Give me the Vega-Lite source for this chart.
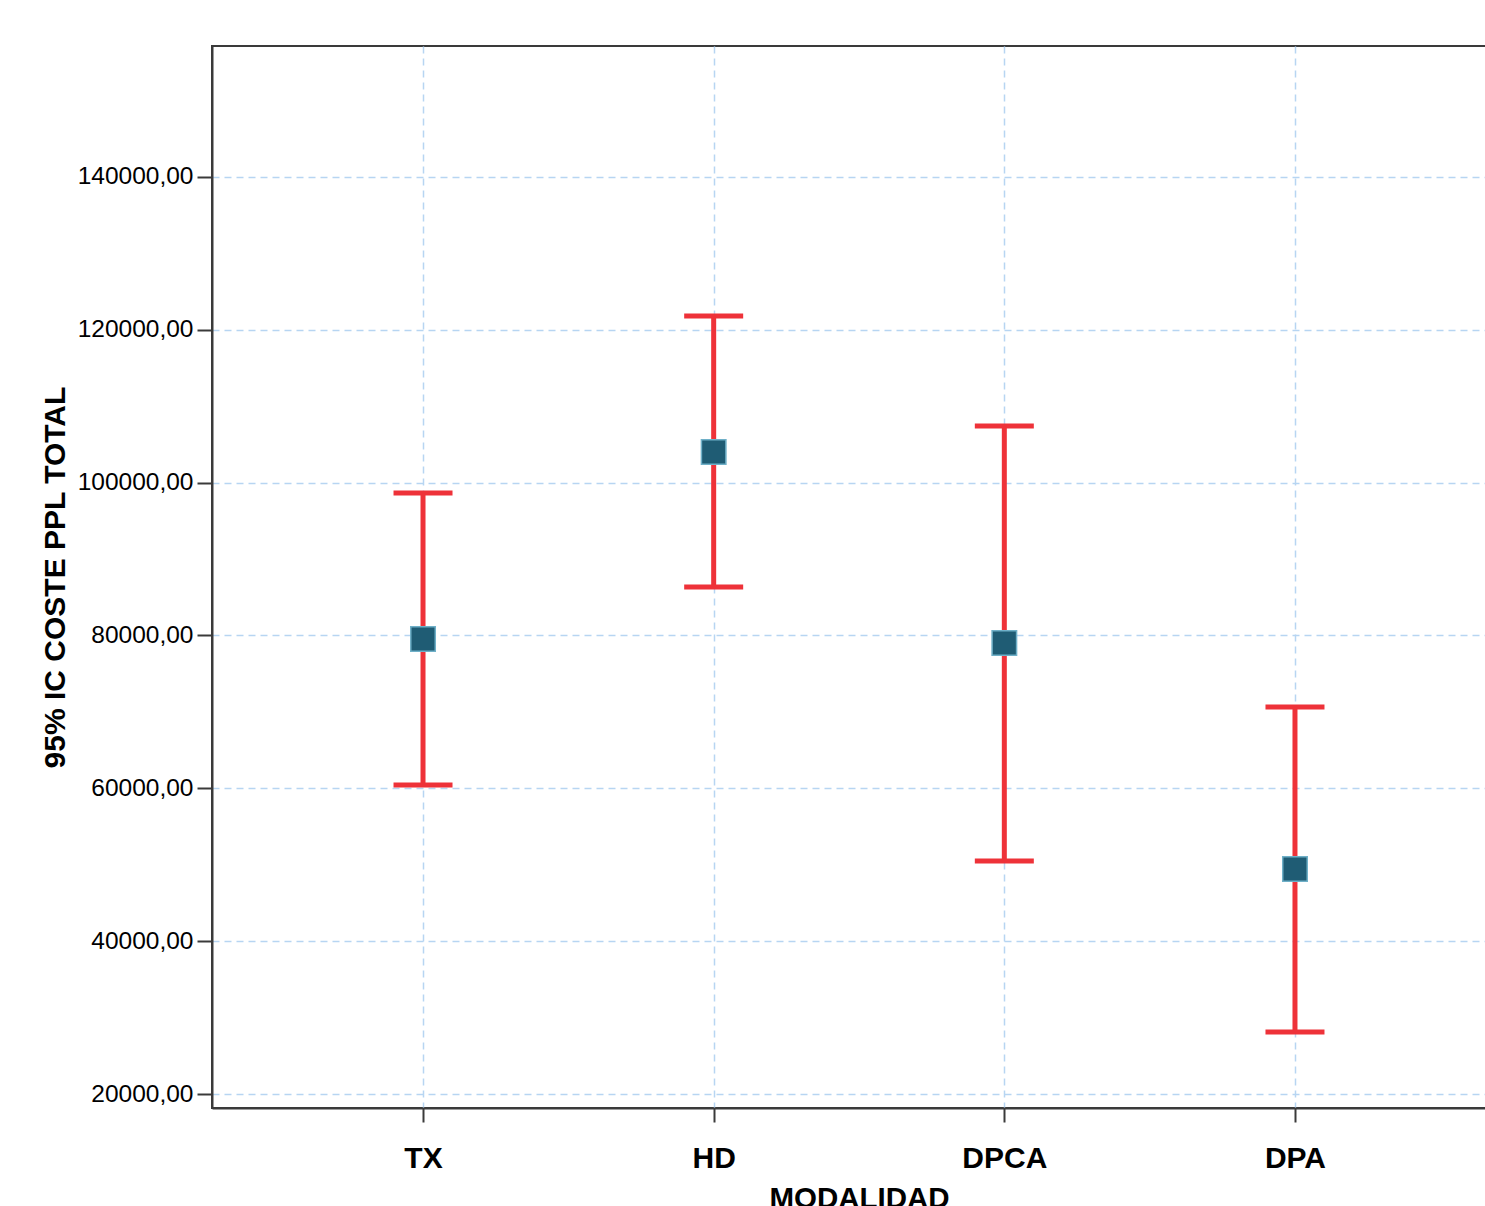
{
  "$schema": "https://vega.github.io/schema/vega-lite/v6.json",
  "width": 1294,
  "height": 1062,
  "autosize": {"type": "none"},
  "padding": {"left": 212, "top": 46, "right": 0, "bottom": 98},
  "background": "white",
  "config": {
    "font": "Liberation Sans",
    "view": {"stroke": "#3a3a3a", "strokeWidth": 2}
  },
  "data": {
    "values": [
      {"modalidad": "TX", "mean": 79540, "lower": 60430, "upper": 98640},
      {"modalidad": "HD", "mean": 104010, "lower": 86340, "upper": 121800},
      {"modalidad": "DPCA", "mean": 79020, "lower": 50490, "upper": 107410},
      {"modalidad": "DPA", "mean": 49440, "lower": 28110, "upper": 70640}
    ]
  },
  "encoding": {
    "x": {
      "field": "modalidad",
      "type": "nominal",
      "sort": ["TX", "HD", "DPCA", "DPA"],
      "scale": {"type": "point", "padding": 0.726},
      "title": "MODALIDAD",
      "axis": {
        "labelAngle": 0,
        "labelFont": "Liberation Sans",
        "labelFontSize": 30,
        "labelFontWeight": "bold",
        "labelColor": "#000",
        "labelPadding": 21,
        "tickSize": 14,
        "tickWidth": 2,
        "tickColor": "#3a3a3a",
        "domainColor": "#3a3a3a",
        "domainWidth": 2,
        "grid": true,
        "gridColor": "#b7d5f2",
        "gridDash": [7, 5],
        "gridWidth": 1.5,
        "titleFontSize": 29.5,
        "titleFontWeight": "bold",
        "titleColor": "#000",
        "titlePadding": 11
      }
    }
  },
  "layer": [
    {
      "mark": {"type": "rule", "color": "#ee3239", "strokeWidth": 5},
      "encoding": {
        "y": {
          "field": "lower",
          "type": "quantitative",
          "scale": {"domain": [18168, 157142], "nice": false, "zero": false},
          "title": "95% IC COSTE PPL TOTAL",
          "axis": {
            "values": [20000, 40000, 60000, 80000, 100000, 120000, 140000],
            "labelExpr": "datum.value + ',00'",
            "labelFont": "Liberation Sans",
            "labelFontSize": 24.5,
            "labelColor": "#000",
            "labelPadding": 4,
            "tickSize": 15,
            "tickWidth": 2,
            "tickColor": "#3a3a3a",
            "domainColor": "#3a3a3a",
            "domainWidth": 2,
            "grid": true,
            "gridColor": "#b7d5f2",
            "gridDash": [7, 5],
            "gridWidth": 1.5,
            "titleFontSize": 30,
            "titleFontWeight": "bold",
            "titleColor": "#000",
            "titlePadding": 7
          }
        },
        "y2": {"field": "upper"}
      }
    },
    {
      "mark": {"type": "tick", "color": "#ee3239", "thickness": 5, "size": 59, "opacity": 1},
      "encoding": {"y": {"field": "upper", "type": "quantitative"}}
    },
    {
      "mark": {"type": "tick", "color": "#ee3239", "thickness": 5, "size": 59, "opacity": 1},
      "encoding": {"y": {"field": "lower", "type": "quantitative"}}
    },
    {
      "mark": {"type": "square", "size": 600, "filled": true, "fill": "#1f5c74", "stroke": "#6fb0c8", "strokeWidth": 1.5, "opacity": 1},
      "encoding": {"y": {"field": "mean", "type": "quantitative"}}
    }
  ]
}
